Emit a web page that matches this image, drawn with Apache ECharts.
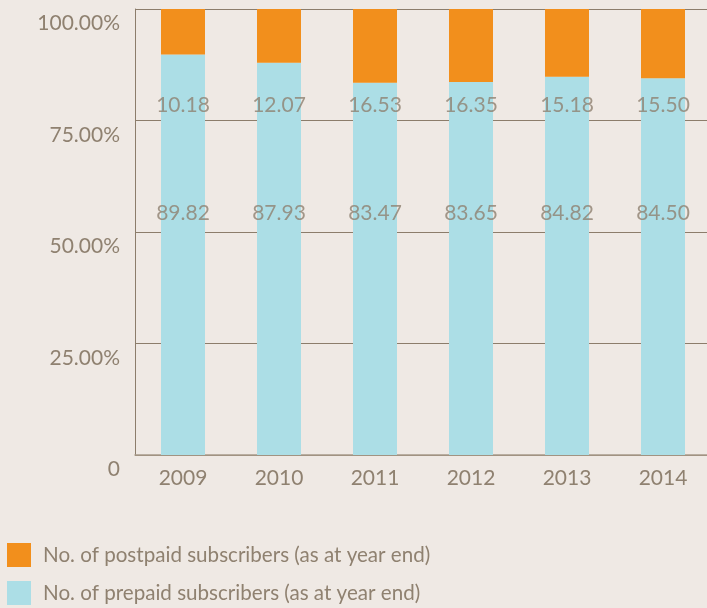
<!DOCTYPE html>
<html>
<head>
<meta charset="utf-8">
<script src="https://cdn.jsdelivr.net/npm/echarts@6/dist/echarts.min.js"></script>
<style>
  html, body { margin: 0; padding: 0; background: #efe9e4; }
  #chart { width: 707px; height: 608px; }
</style>
</head>
<body>
<div id="chart"></div>
<script>
var years = ['2009', '2010', '2011', '2012', '2013', '2014'];
var postpaid = [10.18, 12.07, 16.53, 16.35, 15.18, 15.50];
var prepaid = [89.82, 87.93, 83.47, 83.65, 84.82, 84.50];
// where the value labels sit on the y scale (%)
var postpaidLabelAt = 78.4;
var prepaidLabelAt = 54.1;

var textColor = '#8f8170';
var lineColor = '#8c7d6b';

var myChart = echarts.init(document.getElementById('chart'));

function labelSeries(values, at) {
    return {
        type: 'scatter',
        symbolSize: 1,
        itemStyle: { color: 'rgba(0,0,0,0)' },
        silent: true,
        z: 10,
        data: values.map(function (v, i) { return { value: [years[i], at], raw: v }; }),
        label: {
            show: true,
            position: 'inside',
            color: textColor,
            fontFamily: 'Lato',
            fontSize: 21,
            formatter: function (p) { return p.data.raw.toFixed(2); }
        }
    };
}

var option = {
    backgroundColor: '#efe9e4',
    animation: false,
    textStyle: { fontFamily: 'Lato' },
    grid: { left: 135, top: 9, width: 576, height: 446, outerBoundsMode: 'none', containLabel: false },
    legend: {
        orient: 'vertical',
        left: 7,
        top: 543,
        padding: 0,
        itemWidth: 24,
        itemHeight: 24,
        itemGap: 14,
        icon: 'rect',
        data: ['No. of postpaid subscribers (as at year end)', 'No. of prepaid subscribers (as at year end)'],
        textStyle: { color: textColor, fontSize: 20.6, fontFamily: 'Lato', padding: [0, 0, 0, 7] }
    },
    xAxis: {
        type: 'category',
        data: years,
        axisLine: { lineStyle: { color: '#a89a8a', width: 1.5 } },
        axisTick: { inside: true, length: 10, lineStyle: { color: lineColor } },
        axisLabel: { color: textColor, fontSize: 21, margin: 13 }
    },
    yAxis: {
        type: 'value',
        min: 0,
        max: 100,
        interval: 25,
        axisLine: { show: true, lineStyle: { color: lineColor } },
        axisTick: { show: false },
        splitLine: { lineStyle: { color: lineColor, width: 1.2 } },
        axisLabel: {
            color: textColor,
            fontSize: 21,
            margin: 15,
            verticalAlign: 'top',
            padding: [4, 0, 0, 0],
            formatter: function (v) { return v === 0 ? '0' : v.toFixed(2) + '%'; }
        }
    },
    series: [
        {
            name: 'No. of prepaid subscribers (as at year end)',
            type: 'bar',
            stack: 'all',
            barWidth: 44,
            itemStyle: { color: '#acdee6' },
            data: prepaid
        },
        {
            name: 'No. of postpaid subscribers (as at year end)',
            type: 'bar',
            stack: 'all',
            barWidth: 44,
            itemStyle: { color: '#f28f1c' },
            data: postpaid
        },
        labelSeries(postpaid, postpaidLabelAt),
        labelSeries(prepaid, prepaidLabelAt)
    ]
};

myChart.setOption(option);
</script>
</body>
</html>
